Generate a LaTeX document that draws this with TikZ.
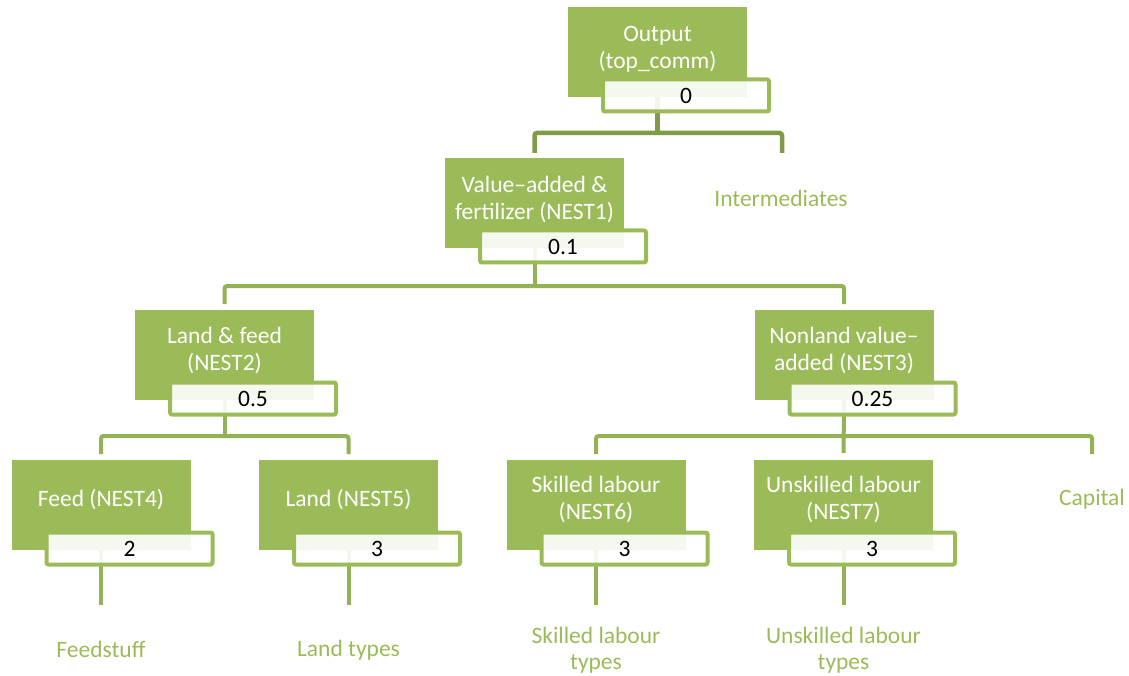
\documentclass[tikz,border=0pt]{standalone}
\usepackage{fontspec}
\setmainfont{Carlito}
\usetikzlibrary{calc}
\definecolor{leaf}{HTML}{9BBB59}
\definecolor{trunk}{HTML}{7F9B48}
\definecolor{branch}{HTML}{93B155}
\pgfdeclarelayer{bg}
\pgfsetlayers{bg,main}
\newcommand{\boxfont}{\fontsize{23.5}{26.5}\selectfont}
\tikzset{
  gbox/.style={fill=leaf, minimum width=179pt, minimum height=90pt, inner sep=0pt, outer sep=0pt},
  wbox/.style={draw=leaf, line width=4pt, fill=white, fill opacity=0.9, text opacity=1,
    rounded corners=2pt, minimum width=166pt, minimum height=32pt, inner sep=0pt,
    font=\boxfont, text=black},
  gtext/.style={text=white, align=center, font=\boxfont, inner sep=0pt},
  otext/.style={text=leaf, align=center, font=\boxfont, inner sep=0pt},
  conn/.style={draw=branch, line width=4pt, rounded corners=2.5pt},
  topconn/.style={draw=trunk, line width=4.5pt, rounded corners=2.5pt},
}
\begin{document}
\begin{tikzpicture}[x=1pt, y=-1pt]
\useasboundingbox (0,0) rectangle (1129,676);

% green boxes with their value boxes (value box centre: +28.5, +43)
\node[gbox] (g0) at (657.5,52) {};
\node[gtext] (t0) at ($(g0.center)+(0,-2.5)$) {Output\\(top\_comm)};
\node[wbox] (w0) at ($(g0.center)+(28.5,43.5)$) {0};

\node[gbox] (g1) at (534.5,203) {};
\node[gtext] (t1) at ($(g1.center)+(0,-3.5)$) {Value–added \&\\fertilizer (NEST1)};
\node[wbox] (w1) at ($(g1.center)+(28.5,43.5)$) {0.1};

\node[gbox] (g2) at (224.5,355) {};
\node[gtext] (t2) at ($(g2.center)+(0,-4.5)$) {Land \& feed\\(NEST2)};
\node[wbox] (w2) at ($(g2.center)+(28.5,43.5)$) {0.5};

\node[gbox] (g3) at (844,355) {};
\node[gtext] (t3) at ($(g3.center)+(0,-4.5)$) {Nonland value–\\added (NEST3)};
\node[wbox] (w3) at ($(g3.center)+(28.5,43.5)$) {0.25};

\node[gbox] (g4) at (101,505) {};
\node[gtext] (t4) at ($(g4.center)+(0,-5)$) {Feed (NEST4)};
\node[wbox] (w4) at ($(g4.center)+(28.5,43.5)$) {2};

\node[gbox] (g5) at (348.5,505) {};
\node[gtext] (t5) at ($(g5.center)+(0,-5)$) {Land (NEST5)};
\node[wbox] (w5) at ($(g5.center)+(28.5,43.5)$) {3};

\node[gbox] (g6) at (596,505) {};
\node[gtext] (t6) at ($(g6.center)+(0,-5.5)$) {Skilled labour\\(NEST6)};
\node[wbox] (w6) at ($(g6.center)+(28.5,43.5)$) {3};

\node[gbox] (g7) at (843.5,505) {};
\node[gtext] (t7) at ($(g7.center)+(0,-5.5)$) {Unskilled labour\\(NEST7)};
\node[wbox] (w7) at ($(g7.center)+(28.5,43.5)$) {3};

% plain input labels
\node[otext] (inter) at (781,198) {Intermediates};
\node[otext] (cap) at (1092,499) {Capital};
\node[otext] (feedstuff) at (101,649) {Feedstuff};
\node[otext] (landtypes) at (348.5,650) {Land types};
\node[otext] (sktypes) at (596,650) {Skilled labour\\types};
\node[otext] (unsktypes) at (843.5,650) {Unskilled labour\\types};

% junctions and open ends of the tree
\coordinate (b0) at (657.5,133);
\coordinate (e0) at (782,153);
\coordinate (b1) at (534.5,286);
\coordinate (b2) at (224.5,436);
\coordinate (b3) at (844,436);
\coordinate (e3) at (1092,454);
\coordinate (f4) at (101,605);
\coordinate (f5) at (348.5,605);
\coordinate (f6) at (596,605);
\coordinate (f7) at (843.5,605);

\begin{pgfonlayer}{bg}
  % output level
  \draw[topconn] (g0.south) -- (b0);
  \draw[topconn, shorten <=5pt] (g1.north) |- (b0) -| (e0);
  % NEST1 level
  \draw[conn] (g1.south) -- (b1);
  \draw[conn, shorten <=6pt, shorten >=6pt] (g2.north) |- (b1) -| (g3.north);
  % NEST2 level
  \draw[conn] (g2.south) -- (b2);
  \draw[conn, shorten <=6pt, shorten >=6pt] (g4.north) |- (b2) -| (g5.north);
  % NEST3 level
  \draw[conn, shorten >=7pt] (g3.south) -- (g7.north);
  \draw[conn, shorten <=6pt] (g6.north) |- (b3) -| (e3);
  % leaf stems
  \draw[conn] (g4.south) -- (f4);
  \draw[conn] (g5.south) -- (f5);
  \draw[conn] (g6.south) -- (f6);
  \draw[conn] (g7.south) -- (f7);
\end{pgfonlayer}
\end{tikzpicture}
\end{document}
